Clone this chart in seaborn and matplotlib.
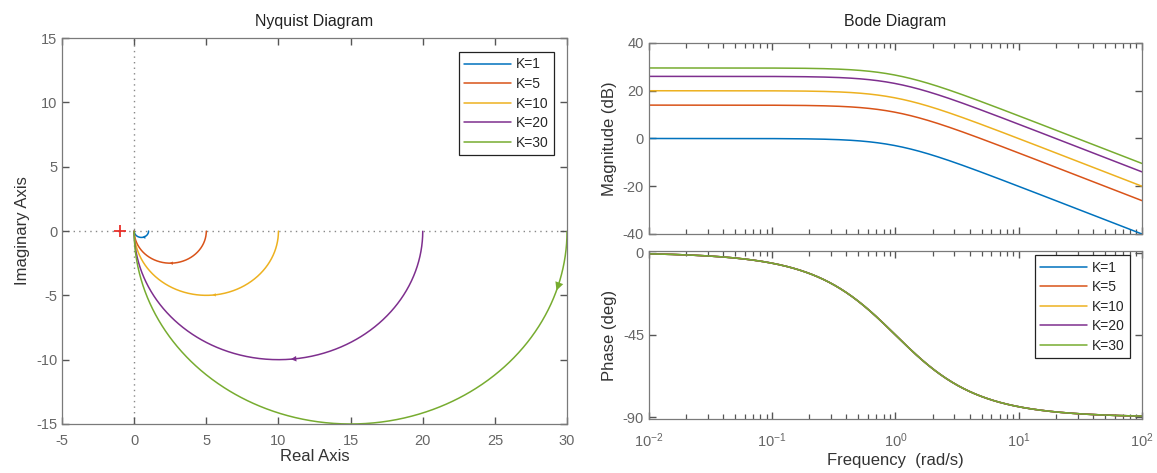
import numpy as np
import pandas as pd
import matplotlib
matplotlib.use("Agg")
import matplotlib.pyplot as plt
from matplotlib.ticker import LogLocator, NullFormatter
import seaborn as sns

# ---------------- data ----------------
gains = [1, 5, 10, 20, 30]                      # K values, G(s) = K/(s+1)
labels = ["K=1", "K=5", "K=10", "K=20", "K=30"]
arrow_omega = [0.9, 1.0, 0.9, 0.9, 0.155]       # where the direction arrows sit
colors = ["#0072BD", "#D95319", "#EDB120", "#7E2F8E", "#77AC30"]
pole = 1.0
omega = np.logspace(-2, 2, 600)
omega_nyq = np.logspace(-3, 3, 1500)

rows = []
for k, lab in zip(gains, labels):
    g = k / (1j * omega + pole)
    for w, gv in zip(omega, g):
        rows.append(dict(K=lab, w=w, mag=20 * np.log10(abs(gv)),
                         phase=np.degrees(np.angle(gv))))
bode = pd.DataFrame(rows)

rows = []
for k, lab in zip(gains, labels):
    g = k / (1j * omega_nyq + pole)
    for i, gv in enumerate(g):
        rows.append(dict(K=lab, idx=i, re=gv.real, im=gv.imag))
nyq = pd.DataFrame(rows)

# ---------------- style ----------------
sns.set_style("white")
plt.rcParams["font.family"] = ["Liberation Sans", "DejaVu Sans"]
plt.rcParams["mathtext.fontset"] = "custom"
plt.rcParams["mathtext.rm"] = "Liberation Sans"
plt.rcParams["mathtext.it"] = "Liberation Sans"
plt.rcParams["axes.unicode_minus"] = False
spine_col = "#7a7a7a"
tick_col = "#666666"
label_col = "#333333"
palette = dict(zip(labels, colors))

fig = plt.figure(figsize=(11.57, 4.73), dpi=100)
ax_n = fig.add_axes([0.0536, 0.1036, 0.4365, 0.816])
ax_m = fig.add_axes([0.5609, 0.5053, 0.4261, 0.4038])
ax_p = fig.add_axes([0.5609, 0.1142, 0.4261, 0.3552])


def style_axes(ax, xpad=6):
    for s in ax.spines.values():
        s.set_color(spine_col)
        s.set_linewidth(0.9)
    ax.tick_params(which="both", direction="in", top=True, right=True,
                   colors="#555555", labelcolor=tick_col, labelsize=10.5,
                   bottom=True, left=True)
    ax.tick_params(which="major", length=5, width=1.0)
    ax.tick_params(which="minor", length=3.5, width=0.9)
    ax.tick_params(axis="x", which="both", pad=xpad)


def log_minor(ax):
    ax.xaxis.set_minor_locator(LogLocator(base=10, subs=np.arange(2, 10),
                                          numticks=100))
    ax.xaxis.set_minor_formatter(NullFormatter())


# ---------------- Nyquist ----------------
ax_n.axhline(0, color="#888888", ls=(0, (1, 3)), lw=1, zorder=0)
ax_n.axvline(0, color="#888888", ls=(0, (1, 3)), lw=1, zorder=0)
sns.lineplot(data=nyq, x="re", y="im", hue="K", palette=palette, sort=False,
             estimator=None, units="K", lw=1.1, ax=ax_n, legend=True)
ax_n.plot([-1], [0], marker="+", color="#E8302A", ms=8, mew=1.3)
arrow_size = {1: 6, 5: 6, 10: 6, 20: 10, 30: 15}
for k, c, w in zip(gains, colors, arrow_omega):
    p0 = k / (1j * w + pole)
    p1 = k / (1j * w * 1.02 + pole)
    ax_n.annotate("", xy=(p1.real, p1.imag), xytext=(p0.real, p0.imag),
                  arrowprops=dict(arrowstyle="-|>", color=c, lw=0,
                                  mutation_scale=arrow_size[k]))
ax_n.set_xlim(-5, 30)
ax_n.set_ylim(-15, 15)
ax_n.set_xticks(np.arange(-5, 31, 5))
ax_n.set_yticks(np.arange(-15, 16, 5))
ax_n.set_xlabel("Real Axis", fontsize=12, color=label_col, labelpad=1)
ax_n.set_ylabel("Imaginary Axis", fontsize=12, color=label_col, labelpad=4)
ax_n.set_title("Nyquist Diagram", fontsize=11.5, color="#222222", pad=9)
style_axes(ax_n, xpad=7)
leg = ax_n.legend(loc="upper right", bbox_to_anchor=(0.974, 0.964),
                  borderaxespad=0, fancybox=False, edgecolor="#222222",
                  fontsize=10, handlelength=3.4, labelspacing=0.4,
                  borderpad=0.4, handletextpad=0.3)
leg.get_frame().set_linewidth(0.9)
leg.get_frame().set_alpha(1)

# ---------------- Bode magnitude ----------------
sns.lineplot(data=bode, x="w", y="mag", hue="K", palette=palette,
             estimator=None, lw=1.1, ax=ax_m, legend=False)
ax_m.set_xscale("log")
ax_m.set_xlim(1e-2, 1e2)
ax_m.set_ylim(-40, 40)
ax_m.set_yticks([-40, -20, 0, 20, 40])
log_minor(ax_m)
ax_m.set_xlabel("")
ax_m.set_ylabel("Magnitude (dB)", fontsize=12, color=label_col, labelpad=4)
ax_m.set_title("Bode Diagram", fontsize=11.5, color="#222222", pad=12)
style_axes(ax_m)
ax_m.tick_params(axis="x", which="both", labelbottom=False)

# ---------------- Bode phase ----------------
sns.lineplot(data=bode, x="w", y="phase", hue="K", palette=palette,
             estimator=None, lw=1.1, ax=ax_p, legend=True)
ax_p.set_xscale("log")
ax_p.set_xlim(1e-2, 1e2)
ax_p.set_ylim(-91, 1)
ax_p.set_yticks([-90, -45, 0])
log_minor(ax_p)
ax_p.set_xlabel("Frequency  (rad/s)", fontsize=12, color=label_col, labelpad=2)
ax_p.set_ylabel("Phase (deg)", fontsize=12, color=label_col, labelpad=4)
style_axes(ax_p, xpad=9)
leg2 = ax_p.legend(loc="upper right", bbox_to_anchor=(0.9757, 0.976),
                   borderaxespad=0, fancybox=False, edgecolor="#222222",
                   fontsize=10, handlelength=3.4, labelspacing=0.4,
                   borderpad=0.4, handletextpad=0.3)
leg2.get_frame().set_linewidth(0.9)
leg2.get_frame().set_alpha(1)

fig.savefig("out.png", dpi=100)
